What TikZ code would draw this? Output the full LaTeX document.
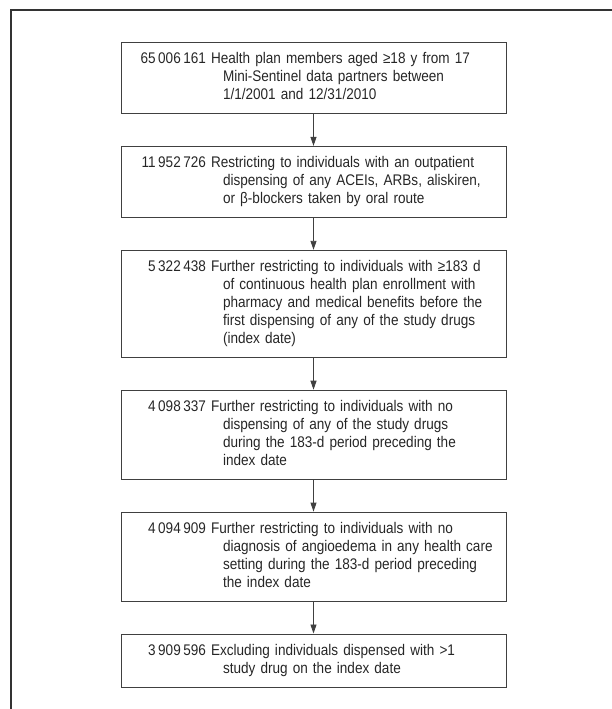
\documentclass[tikz,border=0pt]{standalone}
\usepackage{fontspec}
\setmainfont{Liberation Sans}[FakeStretch=0.88]
\usetikzlibrary{positioning,arrows.meta}

\newcommand{\flowcount}[1]{\noindent\hangindent=98pt\hangafter=1\strut\makebox[81pt][r]{#1}\ }

\begin{document}
\begin{tikzpicture}[x=1pt, y=-1pt,
    font=\fontsize{15.4}{18}\selectfont, >={Triangle[length=9pt,width=6pt]}, node distance=32pt,
    stepbox/.style={draw=black!75, line width=0.9pt, text width=377pt, inner xsep=4pt, inner ysep=8.5pt, align=left, text=black!85},
    link/.style={->, draw=black!75, line width=0.9pt}]
  \useasboundingbox (0,0) rectangle (612,709);
  \draw[line width=1.6pt, black!80] (11,709) -- (11,10) -- (612,10);
  \node[stepbox, anchor=north] (members) at (313.5,42) {\flowcount{65\,006\,161}Health plan members aged ≥18 y from 17\newline Mini-Sentinel data partners between\newline 1/1/2001 and 12/31/2010\strut\par};
  \node[stepbox, below=of members] (outpt) {\flowcount{11\,952\,726}Restricting to individuals with an outpatient\newline dispensing of any ACEIs, ARBs, aliskiren,\newline or β-blockers taken by oral route\strut\par};
  \node[stepbox, below=of outpt] (enroll) {\flowcount{5\,322\,438}Further restricting to individuals with ≥183 d\newline of continuous health plan enrollment with\newline pharmacy and medical benefits before the\newline first dispensing of any of the study drugs\newline (index date)\strut\par};
  \node[stepbox, below=of enroll] (washout) {\flowcount{4\,098\,337}Further restricting to individuals with no\newline dispensing of any of the study drugs\newline during the 183-d period preceding the\newline index date\strut\par};
  \node[stepbox, below=of washout] (angio) {\flowcount{4\,094\,909}Further restricting to individuals with no\newline diagnosis of angioedema in any health care\newline setting during the 183-d period preceding\newline the index date\strut\par};
  \node[stepbox, below=of angio] (single) {\flowcount{3\,909\,596}Excluding individuals dispensed with >1\newline study drug on the index date\strut\par};
  \draw[link] (members) -- (outpt);
  \draw[link] (outpt) -- (enroll);
  \draw[link] (enroll) -- (washout);
  \draw[link] (washout) -- (angio);
  \draw[link] (angio) -- (single);
\end{tikzpicture}
\end{document}
